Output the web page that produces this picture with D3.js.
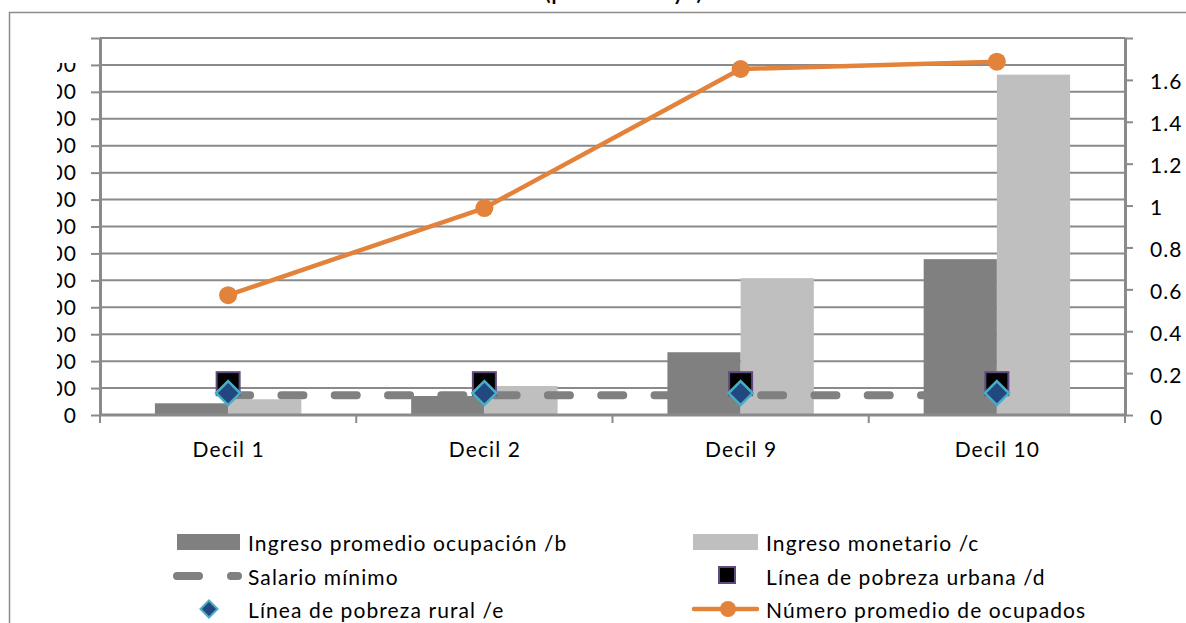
<!DOCTYPE html>
<html>
<head>
<meta charset="utf-8">
<script src="https://cdn.jsdelivr.net/npm/d3@7"></script>
<style>
  html, body { margin: 0; padding: 0; background: #fff; }
  svg { display: block; }
  text { font-family: Lato, "Open Sans", sans-serif; fill: #000; letter-spacing: 1.1px; }
</style>
</head>
<body>
<svg id="chart" width="1186" height="623"></svg>
<script>
// Income by decile, with minimum wage, poverty lines and average number of employed
const categories = ["Decil 1", "Decil 2", "Decil 9", "Decil 10"];
const ingresoOcupacion = [435, 706, 2331, 5788];      // /b
const ingresoMonetario = [584, 1078, 5082, 12640];    // /c
const salarioMinimo = [735, 735, 735, 735];
const pobrezaUrbana = [1163, 1163, 1163, 1163];       // /d
const pobrezaRural = [815, 815, 815, 815];            // /e
const ocupados = [0.572, 0.988, 1.652, 1.687];        // right axis

const leftTicks = [0, 1000, 2000, 3000, 4000, 5000, 6000, 7000, 8000, 9000, 10000, 11000, 12000, 13000, 14000];
const rightTicks = [0, 0.2, 0.4, 0.6, 0.8, 1, 1.2, 1.4, 1.6, 1.8];

const legendItems = [
  "Ingreso promedio ocupación /b", "Ingreso monetario /c",
  "Salario mínimo", "Línea de pobreza urbana /d",
  "Línea de pobreza rural /e", "Número promedio de ocupados"
];

const C = {
  dark: "#808080", light: "#bfbfbf", grid: "#8a8a8a",
  orange: "#e3823a", diamond: "#22497f", diamondStroke: "#4bacc6",
  square: "#000000", squareStroke: "#604a7b", dash: "#808080"
};

const svg = d3.select("#chart");
const plot = { left: 100, right: 1125, top: 38, bottom: 415 };

const x = d3.scaleBand().domain(categories).range([plot.left, plot.right]).padding(0);
const yL = d3.scaleLinear().domain([0, 14000]).range([plot.bottom, plot.top]);
const yR = d3.scaleLinear().domain([0, 1.8]).range([plot.bottom, plot.top]);
const cx = d => x(d) + x.bandwidth() / 2;
const barW = x.bandwidth() / 3.5;   // two bars per category, gap width 150%

// outer chart frame
svg.append("path")
  .attr("d", "M9.5,623 V12.5 H1186")
  .attr("fill", "none").attr("stroke", "#8c8c8c").attr("stroke-width", 1.5);

// title (sits above the top edge; only its descenders show)
svg.append("text")
  .attr("x", 624).attr("y", 0)
  .attr("text-anchor", "middle")
  .style("font-size", "20px").style("font-weight", "bold")
  .text("(pesos de mayo)");

// horizontal gridlines
svg.append("g").selectAll("line").data(leftTicks).join("line")
  .attr("x1", plot.left).attr("x2", plot.right)
  .attr("y1", d => yL(d)).attr("y2", d => yL(d))
  .attr("stroke", C.grid).attr("stroke-width", 2);

// bars
const bars = svg.append("g");
bars.selectAll("rect.b").data(categories).join("rect")
  .attr("x", d => cx(d) - barW).attr("width", barW)
  .attr("y", (d, i) => yL(ingresoOcupacion[i]))
  .attr("height", (d, i) => yL(0) - yL(ingresoOcupacion[i]))
  .attr("fill", C.dark);
bars.selectAll("rect.c").data(categories).join("rect")
  .attr("x", d => cx(d)).attr("width", barW)
  .attr("y", (d, i) => yL(ingresoMonetario[i]))
  .attr("height", (d, i) => yL(0) - yL(ingresoMonetario[i]))
  .attr("fill", C.light);

// left axis (labels redrawn below inside a clip, the frame crops them on the left)
const axL = svg.append("g").attr("transform", `translate(${plot.left},0)`)
  .call(d3.axisLeft(yL).tickValues(leftTicks).tickSize(9).tickSizeOuter(0).tickFormat(d => d === 14000 ? "" : d3.format("d")(d)));
axL.select(".domain").attr("stroke", C.grid).attr("stroke-width", 3);
axL.selectAll(".tick line").attr("stroke", C.grid).attr("stroke-width", 2);

svg.append("clipPath").attr("id", "leftLabelClip")
  .append("rect").attr("x", 57).attr("y", 63).attr("width", 43).attr("height", 380);
const leftLabelLayer = svg.append("g").attr("clip-path", "url(#leftLabelClip)");
axL.selectAll(".tick text").each(function (d) {
  const label = d3.select(this).text();
  leftLabelLayer.append("text")
    .attr("x", plot.left - 23).attr("y", yL(d) + 7.5)
    .attr("text-anchor", "end")
    .style("font-size", "21px")
    .text(label);
  d3.select(this).remove();
});

// right axis
const axR = svg.append("g").attr("transform", `translate(${plot.right},0)`)
  .call(d3.axisRight(yR).tickValues(rightTicks).tickSize(8).tickSizeOuter(0).tickFormat(d => d === 1.8 ? "" : String(+d.toFixed(1))));
axR.select(".domain").attr("stroke", C.grid).attr("stroke-width", 3);
axR.selectAll(".tick line").attr("stroke", C.grid).attr("stroke-width", 2);
axR.selectAll(".tick text")
  .attr("x", 25).attr("dy", null).attr("y", 9)
  .attr("text-anchor", "start")
  .style("font-size", "21px").attr("fill", "#000");

// category axis
const boundaries = categories.map(d => x(d)).concat([plot.right]);
const axX = svg.append("g");
axX.append("line")
  .attr("x1", plot.left).attr("x2", plot.right)
  .attr("y1", plot.bottom).attr("y2", plot.bottom)
  .attr("stroke", C.grid).attr("stroke-width", 3);
axX.selectAll("line.t").data(boundaries).join("line")
  .attr("x1", d => d).attr("x2", d => d)
  .attr("y1", plot.bottom).attr("y2", plot.bottom + 8)
  .attr("stroke", C.grid).attr("stroke-width", 2);
axX.selectAll("text").data(categories).join("text")
  .attr("x", d => cx(d) + 0.5).attr("y", 456.5)
  .attr("text-anchor", "middle")
  .style("font-size", "21px")
  .text(d => d);

// minimum wage dashed line
svg.append("path")
  .datum(categories)
  .attr("d", d3.line().x(d => cx(d)).y((d, i) => yL(salarioMinimo[i])))
  .attr("fill", "none").attr("stroke", C.dash).attr("stroke-width", 8)
  .attr("stroke-linecap", "round").attr("stroke-dasharray", "22,31.3");

// urban poverty line markers
svg.append("g").selectAll("rect").data(categories).join("rect")
  .attr("x", d => cx(d) - 11.5).attr("y", (d, i) => yL(pobrezaUrbana[i]) - 11.5)
  .attr("width", 23).attr("height", 23)
  .attr("fill", C.square).attr("stroke", C.squareStroke).attr("stroke-width", 2);

// rural poverty line markers
const diamond = (s) => `M0,${-s} L${s},0 L0,${s} L${-s},0 Z`;
svg.append("g").selectAll("path").data(categories).join("path")
  .attr("transform", (d, i) => `translate(${cx(d)},${yL(pobrezaRural[i])})`)
  .attr("d", diamond(12))
  .attr("fill", C.diamond).attr("stroke", C.diamondStroke).attr("stroke-width", 2.5);

// average employed line (right axis)
svg.append("path")
  .datum(categories)
  .attr("d", d3.line().x(d => cx(d)).y((d, i) => yR(ocupados[i])))
  .attr("fill", "none").attr("stroke", C.orange).attr("stroke-width", 4.5)
  .attr("stroke-linejoin", "round");
svg.append("g").selectAll("circle").data(categories).join("circle")
  .attr("cx", d => cx(d)).attr("cy", (d, i) => yR(ocupados[i]))
  .attr("r", 9).attr("fill", C.orange);

// legend
const lg = svg.append("g");
const colX = [248, 766];
const rowY = [542, 576, 609];
lg.selectAll("text").data(legendItems).join("text")
  .attr("x", (d, i) => colX[i % 2])
  .attr("y", (d, i) => rowY[Math.floor(i / 2)] + 8.5)
  .style("font-size", "21px")
  .text(d => d);
// swatches
lg.append("rect").attr("x", 177).attr("y", 534).attr("width", 63).attr("height", 16).attr("fill", C.dark);
lg.append("rect").attr("x", 693).attr("y", 534).attr("width", 65).attr("height", 16).attr("fill", C.light);
lg.append("line").attr("x1", 177).attr("x2", 238).attr("y1", 576).attr("y2", 576)
  .attr("stroke", C.dash).attr("stroke-width", 8).attr("stroke-linecap", "round")
  .attr("stroke-dasharray", "22,32");
lg.append("rect").attr("x", 719).attr("y", 567).attr("width", 16).attr("height", 16)
  .attr("fill", C.square).attr("stroke", C.squareStroke).attr("stroke-width", 2);
lg.append("path").attr("transform", "translate(209,609)").attr("d", diamond(8.5))
  .attr("fill", C.diamond).attr("stroke", C.diamondStroke).attr("stroke-width", 2);
lg.append("line").attr("x1", 694).attr("x2", 757).attr("y1", 609).attr("y2", 609)
  .attr("stroke", C.orange).attr("stroke-width", 4.5).attr("stroke-linecap", "round");
lg.append("circle").attr("cx", 728).attr("cy", 609).attr("r", 8).attr("fill", C.orange);
</script>
</body>
</html>
